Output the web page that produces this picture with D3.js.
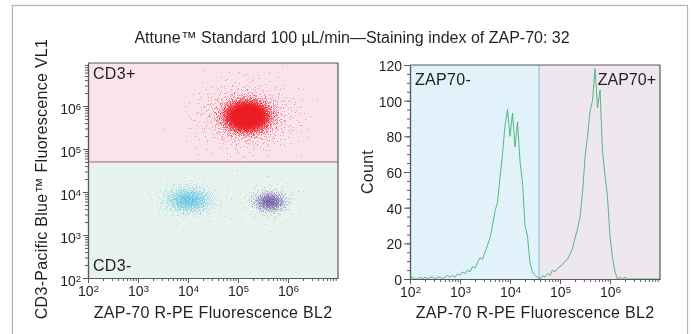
<!DOCTYPE html>
<html>
<head>
<meta charset="utf-8">
<script src="https://cdn.jsdelivr.net/npm/d3@7"></script>
<style>
  body { margin: 0; background: #fff; }
  #wrap { position: relative; width: 692px; height: 334px; }
  #wrap canvas, #wrap svg { position: absolute; left: 0; top: 0; }
  text { font-family: "Liberation Sans", Arial, sans-serif; fill: #231f20; }
  .ttl { font-size: 16px; letter-spacing: 0.3px; }
</style>
</head>
<body>
<div id="wrap"></div>
<script>
// dot plot populations (log10 centre, log10 spread, events)
const popNames = ["CD3+", "CD3- ZAP70-", "CD3- ZAP70+"];
const popLogX = [5.17, 4.0, 5.63];
const popLogY = [5.77, 3.82, 3.78];
const popSdX = [0.2, 0.23, 0.15];
const popSdY = [0.16, 0.15, 0.11];
const popEvents = [9000, 1700, 1200];
const popAlpha = [0.5, 0.26, 0.3];
const popColors = ["rgb(237,28,36)", "rgb(40,176,220)", "rgb(100,72,160)"];

// dot plot gate (CD3+/CD3-) and histogram gate (ZAP70-/ZAP70+)
const cd3Gate = 5e4;
const zapGate = 3.8e4;

// histogram of ZAP-70 R-PE, log10 bin centres every 0.05 decade from 2.0
const histLog = d3.range(0, 101).map(i => 2 + i * 0.05);
const histCount = [
  0, 1, 0, 0, 1, 0, 1, 0, 1, 1,
  0, 1, 1, 0, 1, 2, 1, 2, 1, 3,
  2, 4, 3, 5, 4, 7, 6, 9, 12, 11,
  15, 19, 23, 30, 38, 43, 57, 70, 86, 95,
  80, 93, 74, 88, 66, 54, 30, 24, 9, 4,
  2, 1, 0, 2, 1, 3, 2, 5, 4, 6,
  7, 8, 10, 11, 14, 17, 23, 28, 35, 48,
  68, 80, 94, 100, 118, 96, 106, 72, 58, 46,
  24, 12, 4, 0, 1, 0, 1, 0, 0, 0,
  0, 0, 0, 0, 0, 0, 0, 0, 0, 0, 0
];

const majorLog = [1e2, 1e3, 1e4, 1e5, 1e6];
const minorLog = d3.range(2, 7).flatMap(e => d3.range(2, 10).map(m => m * Math.pow(10, e)));
const countTicks = [0, 20, 40, 60, 80, 100, 120];
const countMinor = d3.range(0, 121, 5);

const W = 692, H = 334;
const wrap = d3.select("#wrap");
const bg = wrap.append("svg").attr("width", W).attr("height", H);
const canvas = wrap.append("canvas").attr("width", W).attr("height", H);
const fg = wrap.append("svg").attr("width", W).attr("height", H);

// left dot plot scales
const x1 = d3.scaleLog().domain([1e2, 1e7]).range([88, 338]);
const y1 = d3.scaleLog().domain([1e2, 1e7]).range([278, 63]);
// right histogram scales
const x2 = d3.scaleLog().domain([1e2, 1e7]).range([410, 660]);
const y2 = d3.scaleLinear().domain([0, 120]).range([279, 65]);

// outer frame
bg.append("rect").attr("x", 12.5).attr("y", 5.5).attr("width", 675).attr("height", 340)
  .attr("fill", "none").attr("stroke", "#b3b3b3").attr("stroke-width", 1.2);

fg.append("text").attr("x", 352).attr("y", 43).attr("text-anchor", "middle")
  .style("font-size", "16px")
  .text("Attune\u2122 Standard 100 \u00b5L/min\u2014Staining index of ZAP-70: 32");

// gate backgrounds
bg.append("rect").attr("x", 88).attr("y", 63).attr("width", 250).attr("height", y1(cd3Gate) - 63).attr("fill", "#f9e3ed");
bg.append("rect").attr("x", 88).attr("y", y1(cd3Gate)).attr("width", 250).attr("height", 278 - y1(cd3Gate)).attr("fill", "#e7f3ec");
bg.append("rect").attr("x", 410).attr("y", 65).attr("width", x2(zapGate) - 410).attr("height", 214).attr("fill", "#e2f2fa");
bg.append("rect").attr("x", x2(zapGate)).attr("y", 65).attr("width", 660 - x2(zapGate)).attr("height", 214).attr("fill", "#efe7f0");

// deterministic quasi-random sequence (Halton) for dot placement
function halton(i, b) {
  let f = 1, r = 0;
  while (i > 0) { f /= b; r += f * (i % b); i = Math.floor(i / b); }
  return r;
}
const ctx = canvas.node().getContext("2d");
let k = 1;
popNames.forEach((name, p) => {
  ctx.fillStyle = popColors[p];
  for (let i = 0; i < popEvents[p]; i++, k++) {
    const u = Math.max(halton(k, 2), 1e-6), v = halton(k, 3);
    const rad = Math.sqrt(-2 * Math.log(u));
    const a = rad * Math.cos(2 * Math.PI * v), b = rad * Math.sin(2 * Math.PI * v);
    const tail = halton(k, 5) < 0.12 ? 2.3 : 1;
    const lx = popLogX[p] + a * popSdX[p] * tail;
    const ly = popLogY[p] + b * popSdY[p] * tail;
    const px = x1(Math.pow(10, lx)), py = y1(Math.pow(10, ly));
    if (px < 88 || px > 338 || py < 63 || py > 278) continue;
    ctx.globalAlpha = tail > 1 ? popAlpha[p] * 0.8 : popAlpha[p];
    ctx.fillRect(Math.round(px), Math.round(py), 1, 1);
  }
});

fg.append("line").attr("x1", 88).attr("x2", 338).attr("y1", y1(cd3Gate)).attr("y2", y1(cd3Gate))
  .attr("stroke", "#b47a9c").attr("stroke-width", 1.2);
fg.append("line").attr("x1", x2(zapGate)).attr("x2", x2(zapGate)).attr("y1", 65).attr("y2", 279)
  .attr("stroke", "#7cbfe0").attr("stroke-width", 1);

// histogram line
fg.append("path")
  .datum(histLog.map((l, i) => [l, histCount[i]]))
  .attr("fill", "none").attr("stroke", "#46b073").attr("stroke-width", 0.9)
  .attr("d", d3.line().x(d => x2(Math.pow(10, d[0]))).y(d => y2(d[1])));

// plot borders
[[88, 63, 338, 278], [410, 65, 660, 279]].forEach(([a, b, c, d]) => {
  fg.append("path").attr("d", `M${a},${b}H${c}V${d}`).attr("fill", "none")
    .attr("stroke", "#5a5a5a").attr("stroke-width", 1.2);
});

function powLabel(sel) {
  sel.each(function(d) {
    const t = d3.select(this).text("");
    t.append("tspan").text("10");
    t.append("tspan").attr("dy", "-0.45em").style("font-size", "9.5px").text(Math.round(Math.log10(d)));
  });
}
function styleAxis(g) {
  g.selectAll("path.domain").attr("stroke", "#5a5a5a").attr("stroke-width", 1.2);
  g.selectAll("line").attr("stroke", "#5a5a5a");
}

function logAxisX(x, y0) {
  const g = fg.append("g").attr("transform", `translate(0,${y0})`);
  g.append("g").call(d3.axisBottom(x).tickValues(minorLog).tickSize(3).tickSizeOuter(0).tickFormat(""));
  const major = g.append("g").call(d3.axisBottom(x).tickValues(majorLog).tickSize(5).tickSizeOuter(0).tickPadding(3));
  styleAxis(g);
  major.selectAll("text").style("font-size", "14px").attr("fill", "#231f20").call(powLabel);
}
function logAxisY(y, x0) {
  const g = fg.append("g").attr("transform", `translate(${x0},0)`);
  g.append("g").call(d3.axisLeft(y).tickValues(minorLog).tickSize(3).tickSizeOuter(0).tickFormat(""));
  const major = g.append("g").call(d3.axisLeft(y).tickValues(majorLog).tickSize(5).tickSizeOuter(0).tickPadding(2));
  styleAxis(g);
  major.selectAll("text").style("font-size", "14px").attr("fill", "#231f20").attr("dy", "0.55em").call(powLabel);
}

logAxisX(x1, 278);
logAxisY(y1, 88);
logAxisX(x2, 279);

const gy2 = fg.append("g").attr("transform", "translate(410,0)");
gy2.append("g").call(d3.axisLeft(y2).tickValues(countMinor).tickSize(3).tickSizeOuter(0).tickFormat(""));
const gy2m = gy2.append("g").call(d3.axisLeft(y2).tickValues(countTicks).tickSize(6).tickSizeOuter(0).tickPadding(2));
styleAxis(gy2);
gy2m.selectAll("text").style("font-size", "14px").attr("fill", "#231f20").attr("dy", "0.4em");

// axis titles
fg.append("text").attr("class", "ttl").attr("x", 213).attr("y", 318).attr("text-anchor", "middle")
  .text("ZAP-70 R-PE Fluorescence BL2");
fg.append("text").attr("class", "ttl").attr("x", 535).attr("y", 318).attr("text-anchor", "middle")
  .text("ZAP-70 R-PE Fluorescence BL2");
fg.append("text").attr("class", "ttl").attr("transform", "translate(47,179) rotate(-90)").attr("text-anchor", "middle")
  .text("CD3-Pacific Blue\u2122 Fluorescence VL1");
fg.append("text").attr("class", "ttl").attr("transform", "translate(373,172) rotate(-90)").attr("text-anchor", "middle")
  .text("Count");

// gate labels
fg.append("text").attr("class", "ttl").attr("x", 93).attr("y", 79).text("CD3+");
fg.append("text").attr("class", "ttl").attr("x", 93).attr("y", 271).text("CD3-");
fg.append("text").attr("class", "ttl").attr("x", 415).attr("y", 85).text("ZAP70-");
fg.append("text").attr("class", "ttl").attr("x", 656).attr("y", 85).attr("text-anchor", "end").style("letter-spacing", "0px").text("ZAP70+");
</script>
</body>
</html>
